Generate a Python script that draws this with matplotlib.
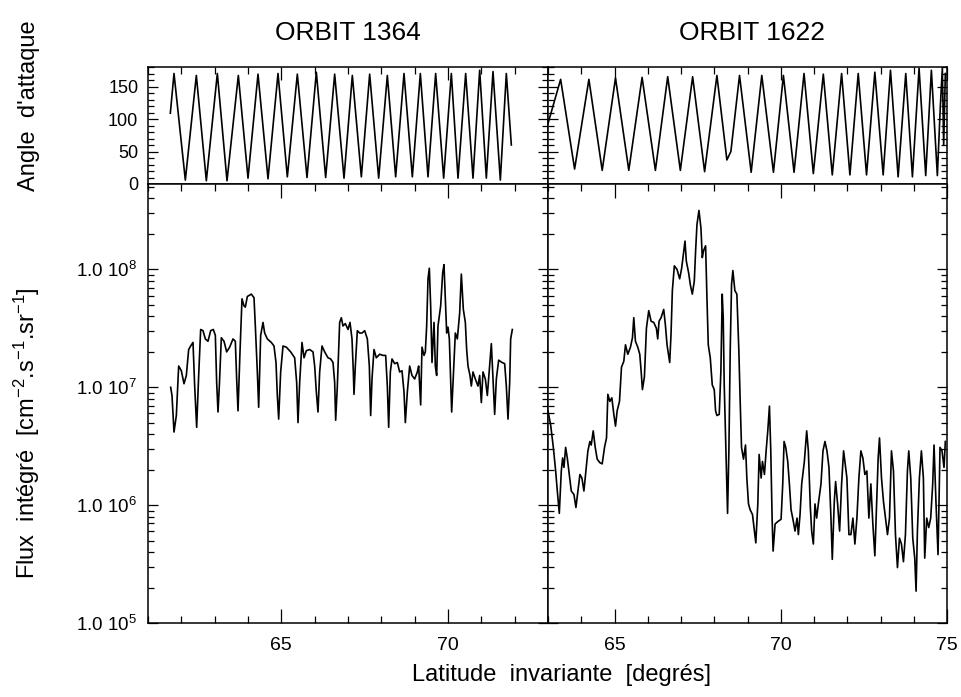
import numpy as np
import matplotlib
matplotlib.use("Agg")
import matplotlib.pyplot as plt
from matplotlib.ticker import MultipleLocator, LogLocator, FuncFormatter, NullFormatter

plt.rcParams["font.family"] = ["Liberation Sans", "DejaVu Sans"]
plt.rcParams["mathtext.default"] = "regular"

# ---- angle of attack (peaks / troughs) ----
lat_ang_1364 = [61.67, 61.78, 62.12, 62.45, 62.75, 63.08, 63.37, 63.71, 64.00, 64.30,
                64.60, 64.90, 65.18, 65.48, 65.77, 66.05, 66.33, 66.60, 66.88, 67.13,
                67.40, 67.65, 67.92, 68.18, 68.43, 68.68, 68.93, 69.17, 69.40, 69.63,
                69.87, 70.10, 70.30, 70.53, 70.75, 70.95, 71.15, 71.35, 71.57, 71.75, 71.90]
ang_1364 = [109, 170, 6, 167, 5, 170, 5, 167, 9, 169,
            8, 170, 11, 169, 10, 172, 10, 169, 9, 167,
            11, 169, 9, 167, 11, 170, 11, 170, 11, 170,
            9, 170, 9, 170, 9, 175, 9, 173, 6, 170, 60]

lat_ang_1622 = [63.00, 63.38, 63.80, 64.23, 64.63, 65.03, 65.43, 65.83, 66.23, 66.60,
                66.98, 67.35, 67.71, 68.08, 68.38, 68.50, 68.76, 69.11, 69.43, 69.78,
                70.08, 70.40, 70.70, 70.98, 71.28, 71.55, 71.83, 72.08, 72.33, 72.58,
                72.83, 73.08, 73.30, 73.53, 73.76, 73.96, 74.16, 74.36, 74.53, 74.71,
                74.80, 74.86, 74.90, 74.95]
ang_1622 = [93, 161, 23, 161, 21, 163, 21, 164, 21, 165,
            21, 165, 19, 167, 37, 50, 167, 18, 167, 18,
            167, 18, 170, 16, 169, 14, 170, 14, 170, 14,
            172, 14, 175, 11, 170, 11, 178, 13, 175, 13,
            120, 178, 60, 170]

# ---- integrated flux, log10 values ----
lat_flux_1364 = [61.68, 61.72, 61.78, 61.85, 61.92, 62.00, 62.08, 62.15, 62.22, 62.28,
                 62.35, 62.40, 62.46, 62.52, 62.58, 62.65, 62.72, 62.80, 62.88, 62.96,
                 63.02, 63.06, 63.10, 63.14, 63.20, 63.28, 63.36, 63.45, 63.55, 63.62,
                 63.66, 63.70, 63.76, 63.82, 63.88, 63.92, 63.98, 64.10, 64.18, 64.22,
                 64.28, 64.32, 64.38, 64.45, 64.50, 64.58, 64.70, 64.78, 64.84, 64.88,
                 64.92, 64.98, 65.05, 65.15, 65.28, 65.40, 65.46, 65.50, 65.55, 65.62,
                 65.68, 65.75, 65.85, 65.95, 66.00, 66.05, 66.10, 66.15, 66.22, 66.30,
                 66.40, 66.48, 66.55, 66.60, 66.63, 66.68, 66.75, 66.80, 66.85, 66.92,
                 67.00, 67.06, 67.12, 67.16, 67.18, 67.22, 67.28, 67.35, 67.42, 67.50,
                 67.58, 67.64, 67.68, 67.72, 67.78, 67.85, 67.95, 68.05, 68.13, 68.18,
                 68.22, 68.27, 68.32, 68.40, 68.48, 68.55, 68.62, 68.68, 68.72, 68.78,
                 68.85, 68.92, 69.00, 69.08, 69.12, 69.18, 69.22, 69.28, 69.32, 69.36,
                 69.40, 69.44, 69.48, 69.52, 69.58, 69.62, 69.66, 69.70, 69.78, 69.84,
                 69.88, 69.92, 69.96, 70.00, 70.04, 70.08, 70.11, 70.16, 70.22, 70.28,
                 70.35, 70.40, 70.46, 70.52, 70.56, 70.60, 70.66, 70.70, 70.75, 70.82,
                 70.90, 70.95, 71.00, 71.05, 71.12, 71.18, 71.25, 71.30, 71.35, 71.40,
                 71.45, 71.52, 71.62, 71.70, 71.75, 71.80, 71.85, 71.88, 71.93]
logflux_1364 = [7.00, 6.93, 6.62, 6.76, 7.18, 7.14, 7.03, 7.10, 7.32, 7.35,
                7.38, 7.01, 6.66, 7.10, 7.49, 7.48, 7.41, 7.39, 7.48, 7.49,
                7.44, 7.04, 6.79, 7.01, 7.42, 7.39, 7.30, 7.34, 7.41, 7.39,
                7.07, 6.80, 7.30, 7.75, 7.69, 7.68, 7.77, 7.79, 7.76, 7.52,
                7.13, 6.83, 7.44, 7.55, 7.46, 7.41, 7.38, 7.35, 7.21, 6.93,
                6.73, 7.13, 7.35, 7.34, 7.30, 7.25, 7.04, 6.70, 7.04, 7.38,
                7.25, 7.31, 7.32, 7.30, 7.18, 6.96, 6.79, 7.13, 7.35, 7.30,
                7.25, 7.24, 7.21, 7.04, 6.72, 7.01, 7.55, 7.59, 7.52, 7.54,
                7.49, 7.55, 7.41, 7.13, 6.94, 7.18, 7.48, 7.46, 7.46, 7.48,
                7.41, 7.18, 6.76, 7.07, 7.32, 7.25, 7.28, 7.27, 7.27, 7.01,
                6.66, 7.13, 7.24, 7.20, 7.21, 7.13, 7.14, 6.96, 6.70, 6.96,
                7.18, 7.10, 7.07, 7.13, 7.18, 6.85, 7.34, 7.27, 7.30, 7.52,
                7.92, 8.01, 7.69, 7.21, 7.55, 7.18, 7.10, 7.52, 7.69, 7.97,
                8.04, 7.75, 7.46, 7.51, 7.41, 7.07, 6.79, 7.10, 7.46, 7.41,
                7.63, 7.96, 7.66, 7.55, 7.32, 7.18, 7.10, 7.01, 7.13, 7.07,
                7.01, 7.10, 6.87, 7.13, 7.07, 6.93, 7.18, 7.37, 7.07, 6.77,
                7.07, 7.23, 7.21, 7.20, 7.01, 6.73, 7.04, 7.41, 7.49]

lat_flux_1622 = [63.00, 63.08, 63.16, 63.23, 63.28, 63.34, 63.40, 63.44, 63.48, 63.53,
                 63.58, 63.64, 63.70, 63.78, 63.84, 63.90, 63.96, 64.02, 64.08, 64.14,
                 64.20, 64.26, 64.30, 64.36, 64.42, 64.48, 64.56, 64.63, 64.70, 64.76,
                 64.80, 64.86, 64.92, 64.98, 65.03, 65.08, 65.15, 65.21, 65.28, 65.33,
                 65.40, 65.48, 65.54, 65.58, 65.63, 65.70, 65.76, 65.80, 65.84, 65.90,
                 65.96, 66.03, 66.10, 66.18, 66.26, 66.30, 66.34, 66.40, 66.48, 66.53,
                 66.58, 66.66, 66.70, 66.74, 66.80, 66.88, 66.96, 67.02, 67.06, 67.12,
                 67.16, 67.23, 67.28, 67.34, 67.40, 67.44, 67.48, 67.54, 67.60, 67.64,
                 67.68, 67.74, 67.78, 67.82, 67.88, 67.94, 68.00, 68.04, 68.08, 68.15,
                 68.20, 68.24, 68.27, 68.30, 68.35, 68.40, 68.44, 68.48, 68.52, 68.56,
                 68.62, 68.68, 68.74, 68.78, 68.82, 68.88, 68.94, 68.98, 69.03, 69.08,
                 69.15, 69.21, 69.25, 69.31, 69.35, 69.41, 69.45, 69.51, 69.56, 69.61,
                 69.66, 69.70, 69.74, 69.77, 69.83, 69.91, 70.01, 70.06, 70.10, 70.15,
                 70.21, 70.26, 70.31, 70.36, 70.43, 70.49, 70.53, 70.58, 70.63, 70.71,
                 70.78, 70.83, 70.89, 70.93, 70.98, 71.03, 71.08, 71.13, 71.21, 71.27,
                 71.33, 71.39, 71.45, 71.51, 71.55, 71.61, 71.65, 71.71, 71.77, 71.83,
                 71.89, 71.93, 71.99, 72.05, 72.11, 72.17, 72.23, 72.29, 72.35, 72.41,
                 72.47, 72.53, 72.59, 72.65, 72.71, 72.77, 72.83, 72.89, 72.93, 72.97,
                 73.03, 73.09, 73.15, 73.21, 73.27, 73.33, 73.39, 73.45, 73.51, 73.57,
                 73.63, 73.69, 73.75, 73.81, 73.85, 73.91, 73.97, 74.03, 74.07, 74.11,
                 74.17, 74.23, 74.29, 74.33, 74.39, 74.45, 74.51, 74.57, 74.61, 74.67,
                 74.73, 74.79, 74.85, 74.91, 74.95]
logflux_1622 = [6.80, 6.68, 6.49, 6.29, 6.12, 5.93, 6.29, 6.40, 6.32, 6.49,
                6.40, 6.26, 6.12, 6.09, 5.98, 6.12, 6.26, 6.23, 6.12, 6.29,
                6.46, 6.54, 6.51, 6.63, 6.49, 6.39, 6.36, 6.35, 6.49, 6.57,
                6.94, 6.88, 6.91, 6.77, 6.67, 6.80, 6.88, 7.17, 7.22, 7.36,
                7.28, 7.34, 7.42, 7.59, 7.39, 7.34, 7.28, 7.14, 6.98, 7.09,
                7.50, 7.65, 7.56, 7.55, 7.50, 7.41, 7.56, 7.59, 7.66, 7.53,
                7.36, 7.21, 7.45, 7.82, 8.03, 8.00, 7.92, 8.01, 8.10, 8.24,
                8.07, 7.97, 7.87, 7.79, 7.90, 8.16, 8.38, 8.50, 8.35, 8.10,
                8.16, 8.20, 7.76, 7.36, 7.25, 7.02, 6.98, 6.80, 6.76, 6.77,
                7.14, 7.79, 7.59, 7.02, 6.46, 5.93, 6.46, 7.31, 7.87, 7.99,
                7.82, 7.79, 7.31, 6.88, 6.49, 6.39, 6.51, 6.23, 6.01, 5.96,
                5.92, 5.78, 5.68, 6.01, 6.43, 6.23, 6.37, 6.26, 6.46, 6.63,
                6.84, 6.46, 5.89, 5.61, 5.84, 5.86, 5.88, 6.18, 6.54, 6.49,
                6.37, 6.18, 5.96, 5.89, 5.78, 5.89, 5.75, 5.92, 6.18, 6.37,
                6.63, 6.46, 5.98, 5.78, 5.67, 6.01, 5.89, 6.01, 6.18, 6.46,
                6.54, 6.46, 6.32, 5.89, 5.54, 6.03, 6.20, 6.01, 5.78, 6.18,
                6.46, 6.37, 6.23, 5.75, 5.75, 5.89, 5.67, 5.89, 6.23, 6.46,
                6.40, 6.26, 6.29, 5.89, 6.18, 5.84, 5.57, 6.06, 6.40, 6.57,
                6.23, 6.03, 5.89, 5.75, 5.89, 6.46, 6.29, 5.75, 5.47, 5.72,
                5.67, 5.52, 5.75, 6.29, 6.46, 6.23, 5.72, 5.55, 5.27, 5.78,
                6.23, 6.46, 6.23, 5.55, 5.89, 5.81, 5.89, 6.18, 6.51, 6.01,
                5.58, 6.49, 6.46, 6.32, 6.54]

orbits = ["ORBIT 1364", "ORBIT 1622"]
xlims = [(61, 73), (63, 75)]

W, H = 961, 697
fig = plt.figure(figsize=(W / 100, H / 100), dpi=100)

def box(x0, y0, x1, y1):
    # pixel box (from top-left) -> figure fraction
    return [x0 / W, 1 - y1 / H, (x1 - x0) / W, (y1 - y0) / H]

ax_top = [fig.add_axes(box(148, 67, 548, 184)), fig.add_axes(box(548, 67, 947, 184))]
ax_bot = [fig.add_axes(box(148, 184, 548, 623)), fig.add_axes(box(548, 184, 947, 623))]

angle_data = [(lat_ang_1364, ang_1364), (lat_ang_1622, ang_1622)]
flux_data = [(lat_flux_1364, logflux_1364), (lat_flux_1622, logflux_1622)]

def log_label(v, pos):
    return r"1.0 $10^{%d}$" % round(np.log10(v))

for i in range(2):
    at, ab = ax_top[i], ax_bot[i]
    at.plot(angle_data[i][0], angle_data[i][1], color="black", lw=1.2)
    ab.plot(flux_data[i][0], 10.0 ** np.array(flux_data[i][1]), color="black", lw=1.2)

    for a in (at, ab):
        a.set_xlim(*xlims[i])
        a.xaxis.set_major_locator(MultipleLocator(5))
        a.xaxis.set_minor_locator(MultipleLocator(1))
        for s in a.spines.values():
            s.set_linewidth(1.1)

    at.set_ylim(0, 180)
    at.yaxis.set_major_locator(MultipleLocator(50))
    at.yaxis.set_minor_locator(MultipleLocator(10))
    at.tick_params(which="both", direction="in", top=True, bottom=False, left=True, right=True,
                   labelbottom=False, labelleft=(i == 0), labelsize=13, pad=7, width=0.9)
    at.tick_params(axis="y", which="major", length=7)
    at.tick_params(axis="y", which="minor", length=4)
    at.tick_params(axis="x", which="major", length=9)
    at.tick_params(axis="x", which="minor", length=5)

    ab.set_yscale("log")
    ab.set_ylim(1e5, 5.3e8)
    ab.yaxis.set_major_locator(LogLocator(base=10))
    ab.yaxis.set_minor_locator(LogLocator(base=10, subs=np.arange(2, 10)))
    ab.yaxis.set_major_formatter(FuncFormatter(log_label))
    ab.yaxis.set_minor_formatter(NullFormatter())
    ab.tick_params(which="both", direction="in", top=True, bottom=True, left=True, right=True,
                   labelleft=(i == 0), width=0.9)
    ab.tick_params(axis="y", which="major", length=7, labelsize=13.5, pad=8)
    ab.tick_params(axis="y", which="minor", length=4)
    ab.tick_params(axis="x", which="major", length=10, labelsize=14, pad=10)
    ab.tick_params(axis="x", which="minor", length=5)

fig.text(348 / W, 1 - 33 / H, orbits[0], ha="center", va="center", fontsize=19)
fig.text(752 / W, 1 - 33 / H, orbits[1], ha="center", va="center", fontsize=19)
fig.text(29 / W, 1 - 106 / H, "Angle  d'attaque", rotation=90, ha="center", va="center", fontsize=17)
fig.text(27 / W, 1 - 433 / H, r"Flux  intégré  [cm$^{-2}$.s$^{-1}$.sr$^{-1}$]",
         rotation=90, ha="center", va="center", fontsize=17)
fig.text(562 / W, 1 - 675 / H, "Latitude  invariante  [degrés]", ha="center", va="center", fontsize=17)

fig.savefig("out.png", dpi=100)
